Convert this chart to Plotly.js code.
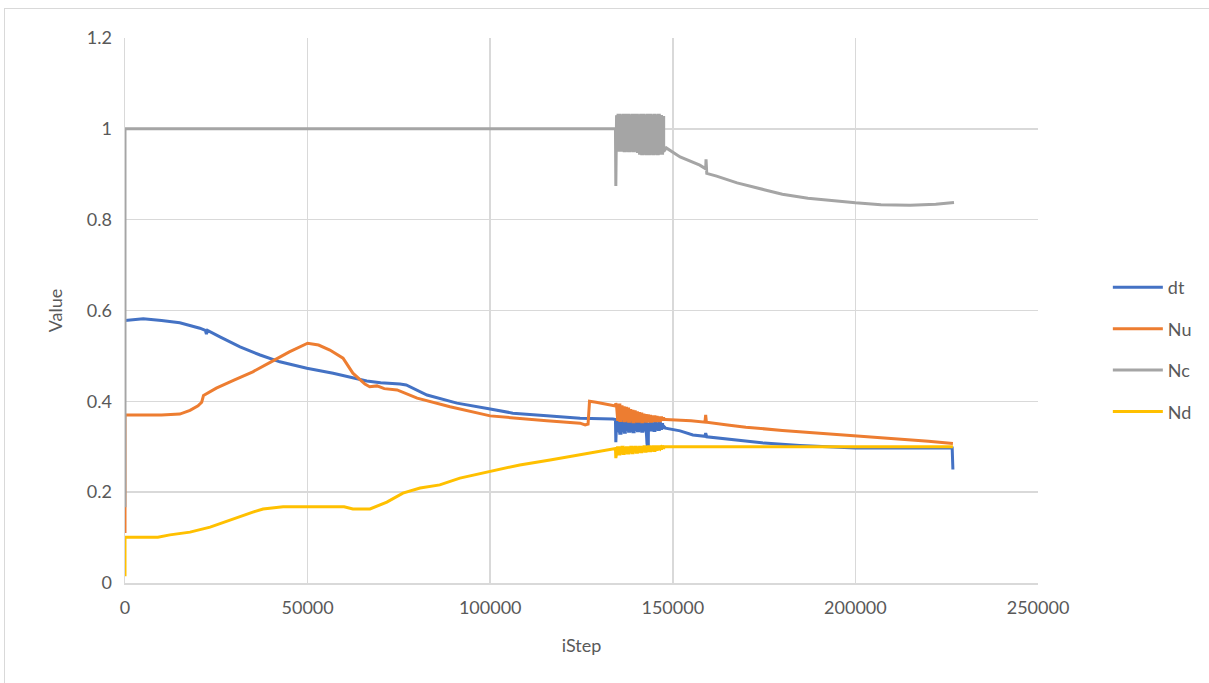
<!DOCTYPE html>
<html>
<head>
<meta charset="utf-8">
<script src="https://cdn.plot.ly/plotly-3.0.1.min.js"></script>
<style>
  html, body { margin: 0; padding: 0; background: #ffffff; overflow: hidden; }
  #chart { width: 1209px; height: 683px; position: absolute; left: 0; top: 0; }
  #frame { position: absolute; left: 4px; top: 8px; width: 1400px; height: 900px;
           border: 1px solid #d9d9d9; pointer-events: none; }
</style>
</head>
<body>
<div id="chart"></div>
<div id="frame"></div>
<script>
// ---- data ----
const seriesNames = ["dt", "Nu", "Nc", "Nd"];
const seriesColors = ["#4472C4", "#ED7D31", "#A5A5A5", "#FFC000"];
const xTicks = [0, 50000, 100000, 150000, 200000, 250000];
const yTicks = [0, 0.2, 0.4, 0.6, 0.8, 1.0, 1.2];

// steps in the oscillating region
const noiseX = [134600, 134900, 135200, 135500, 135800, 136100, 136400, 136700, 137000, 137300,
                137600, 137900, 138200, 138500, 138800, 139100, 139400, 139700, 140000, 140300,
                140600, 140900, 141200, 141500, 141800, 142100, 142400, 142700, 143000, 143300,
                143600, 143900, 144200, 144500, 144800, 145100, 145400, 145700, 146000, 146300,
                146600, 146900, 147200, 147500];

// dt
const dtX1 = [0, 2000, 5000, 10000, 15000, 20500, 22000, 22300, 22600, 26000, 31500, 37000, 42400, 49800,
              57000, 66200, 70000, 75300, 77000, 82700, 90900, 100000, 106200, 115500, 124600, 133600, 134300, 134400];
const dtY1 = [0.578, 0.58, 0.582, 0.578, 0.573, 0.561, 0.556, 0.548, 0.556, 0.542, 0.52, 0.502, 0.487, 0.473,
              0.462, 0.445, 0.441, 0.438, 0.436, 0.414, 0.396, 0.383, 0.374, 0.368, 0.363, 0.361, 0.36, 0.31];
const dtNoise = [0.355, 0.335, 0.36, 0.33, 0.358, 0.335, 0.36, 0.332, 0.356, 0.338, 0.358, 0.334, 0.355, 0.336,
                 0.357, 0.333, 0.354, 0.338, 0.356, 0.335, 0.355, 0.337, 0.353, 0.334, 0.355, 0.338, 0.352, 0.336,
                 0.305, 0.35, 0.337, 0.352, 0.338, 0.35, 0.336, 0.352, 0.339, 0.35, 0.338, 0.351, 0.34, 0.349, 0.342, 0.345];
const dtX2 = [148000, 152000, 155500, 158800, 159000, 159300, 164800, 168400, 175000, 184800, 195000, 200000,
              210000, 220000, 226500, 226700];
const dtY2 = [0.341, 0.335, 0.326, 0.323, 0.33, 0.322, 0.317, 0.313, 0.308, 0.303, 0.298, 0.297,
              0.297, 0.297, 0.297, 0.25];

// Nu
const nuX1 = [0, 0, 5000, 10000, 15000, 17800, 20000, 21000, 21500, 25000, 30000, 35000, 40000, 45000, 50000,
              53000, 56100, 59700, 62400, 65700, 67000, 69000, 71000, 74500, 80000, 89000, 100000, 106200, 115500,
              124600, 126000, 126800, 127200, 129000, 132000, 134300, 134400];
const nuY1 = [0.11, 0.37, 0.37, 0.37, 0.372, 0.38, 0.39, 0.398, 0.413, 0.429, 0.447, 0.465, 0.487, 0.509, 0.528,
              0.524, 0.513, 0.495, 0.462, 0.438, 0.432, 0.434, 0.428, 0.425, 0.407, 0.388, 0.368, 0.363, 0.357,
              0.352, 0.348, 0.35, 0.40, 0.398, 0.394, 0.39, 0.396];
const nuNoise = [0.39, 0.36, 0.392, 0.358, 0.388, 0.362, 0.386, 0.357, 0.385, 0.36, 0.383, 0.356, 0.38, 0.36,
                 0.378, 0.355, 0.377, 0.358, 0.375, 0.356, 0.373, 0.357, 0.372, 0.355, 0.37, 0.358, 0.369, 0.356,
                 0.368, 0.357, 0.367, 0.356, 0.366, 0.358, 0.366, 0.357, 0.365, 0.358, 0.364, 0.357, 0.364, 0.36, 0.362, 0.36];
const nuX2 = [148000, 155000, 158800, 159000, 159200, 165000, 170000, 180000, 190000, 200000, 210000, 220000, 226700];
const nuY2 = [0.36, 0.357, 0.354, 0.37, 0.354, 0.348, 0.343, 0.336, 0.33, 0.325, 0.318, 0.312, 0.307];

// Nc
const ncX1 = [0, 0, 134300, 134400];
const ncY1 = [0.167, 1.0, 1.0, 0.874];
const ncNoise = [1.03, 0.953, 1.03, 0.953, 1.028, 0.953, 1.03, 0.952, 1.03, 0.953, 1.03, 0.952, 1.028, 0.953,
                 1.03, 0.952, 1.03, 0.953, 1.03, 0.95, 1.028, 0.946, 1.03, 0.945, 1.03, 0.946, 1.028, 0.945,
                 1.03, 0.945, 1.03, 0.946, 1.028, 0.945, 1.03, 0.946, 1.028, 0.945, 1.03, 0.946, 1.027, 0.946, 1.025, 0.95];
const ncX2 = [148200, 152000, 157400, 159000, 159100, 159300, 162000, 167600, 175000, 180000, 187000, 195000,
              200000, 207000, 215000, 222000, 227000];
const ncY2 = [0.958, 0.938, 0.92, 0.912, 0.933, 0.902, 0.896, 0.881, 0.866, 0.856, 0.847, 0.84,
              0.837, 0.833, 0.832, 0.834, 0.838];

// Nd
const ndX1 = [0, 0, 5000, 9000, 12300, 17800, 23300, 28700, 35000, 37800, 43300, 50000, 60000, 62400, 67100,
              71700, 76100, 80800, 86200, 91700, 100000, 108100, 116400, 124600, 133600, 134300, 134400];
const ndY1 = [0.015, 0.101, 0.101, 0.101, 0.106, 0.112, 0.123, 0.139, 0.156, 0.163, 0.168, 0.168, 0.168, 0.163, 0.163,
              0.178, 0.198, 0.209, 0.216, 0.231, 0.245, 0.26, 0.271, 0.282, 0.295, 0.296, 0.275];
const ndNoise = [0.29, 0.298, 0.284, 0.297, 0.287, 0.299, 0.285, 0.296, 0.288, 0.298, 0.286, 0.297, 0.289, 0.299,
                 0.287, 0.298, 0.29, 0.299, 0.288, 0.297, 0.29, 0.299, 0.289, 0.298, 0.291, 0.3, 0.29, 0.298,
                 0.292, 0.3, 0.291, 0.299, 0.293, 0.3, 0.292, 0.3, 0.294, 0.3, 0.295, 0.3, 0.296, 0.3, 0.298, 0.3];
const ndX2 = [148000, 226700];
const ndY2 = [0.3, 0.3];

// ---- build traces ----
const xs = [
  dtX1.concat(noiseX, dtX2),
  nuX1.concat(noiseX, nuX2),
  ncX1.concat(noiseX, ncX2),
  ndX1.concat(noiseX, ndX2)
];
const ys = [
  dtY1.concat(dtNoise, dtY2),
  nuY1.concat(nuNoise, nuY2),
  ncY1.concat(ncNoise, ncY2),
  ndY1.concat(ndNoise, ndY2)
];
const noiseYs = [dtNoise, nuNoise, ncNoise, ndNoise];

const FONT = "Lato, 'Open Sans', sans-serif";
const TXT = "#595959";
const FS = 18;

const traces = [];
seriesNames.forEach((name, i) => {
  traces.push({
    type: "scatter", mode: "lines", name: name,
    x: xs[i], y: ys[i], legendgroup: name,
    line: { color: seriesColors[i], width: 3 }
  });
  // stepped overlay of the oscillating stretch, so it reads as a dense band
  traces.push({
    type: "scatter", mode: "lines", name: name,
    x: noiseX, y: noiseYs[i], legendgroup: name, showlegend: false,
    line: { color: seriesColors[i], width: 3, shape: "hv" }
  });
});

const layout = {
  width: 1209,
  height: 683,
  margin: { l: 125, r: 171, t: 38, b: 100 },
  paper_bgcolor: "rgba(0,0,0,0)",
  plot_bgcolor: "#ffffff",
  font: { family: FONT, size: FS, color: TXT },
  showlegend: true,
  legend: {
    x: 1.0765, xanchor: "left",
    y: 0.576, yanchor: "top",
    traceorder: "grouped",
    tracegroupgap: 15,
    itemwidth: 50,
    font: { family: FONT, size: FS, color: TXT },
    bgcolor: "rgba(0,0,0,0)"
  },
  xaxis: {
    range: [0, 250000],
    tickmode: "array",
    tickvals: xTicks,
    ticktext: xTicks.map(String),
    showgrid: true,
    gridcolor: "#d9d9d9",
    gridwidth: 1.5,
    showline: true,
    linecolor: "#d9d9d9",
    linewidth: 1.5,
    zeroline: false,
    ticks: "outside",
    ticklen: 8,
    tickcolor: "rgba(0,0,0,0)",
    tickfont: { family: FONT, size: FS, color: TXT },
    title: { text: "iStep", font: { family: FONT, size: FS, color: TXT }, standoff: 22 }
  },
  yaxis: {
    range: [0, 1.2],
    tickmode: "array",
    tickvals: yTicks,
    ticktext: yTicks.map(v => String(Math.round(v * 10) / 10)),
    showgrid: true,
    gridcolor: "#d9d9d9",
    gridwidth: 1.5,
    showline: true,
    linecolor: "#d9d9d9",
    linewidth: 1.5,
    zeroline: false,
    ticks: "outside",
    ticklen: 8,
    tickcolor: "rgba(0,0,0,0)",
    tickfont: { family: FONT, size: FS, color: TXT },
    title: { text: "Value", font: { family: FONT, size: FS, color: TXT }, standoff: 19 }
  }
};

Plotly.newPlot("chart", traces, layout, { displayModeBar: false, staticPlot: true });
</script>
</body>
</html>
